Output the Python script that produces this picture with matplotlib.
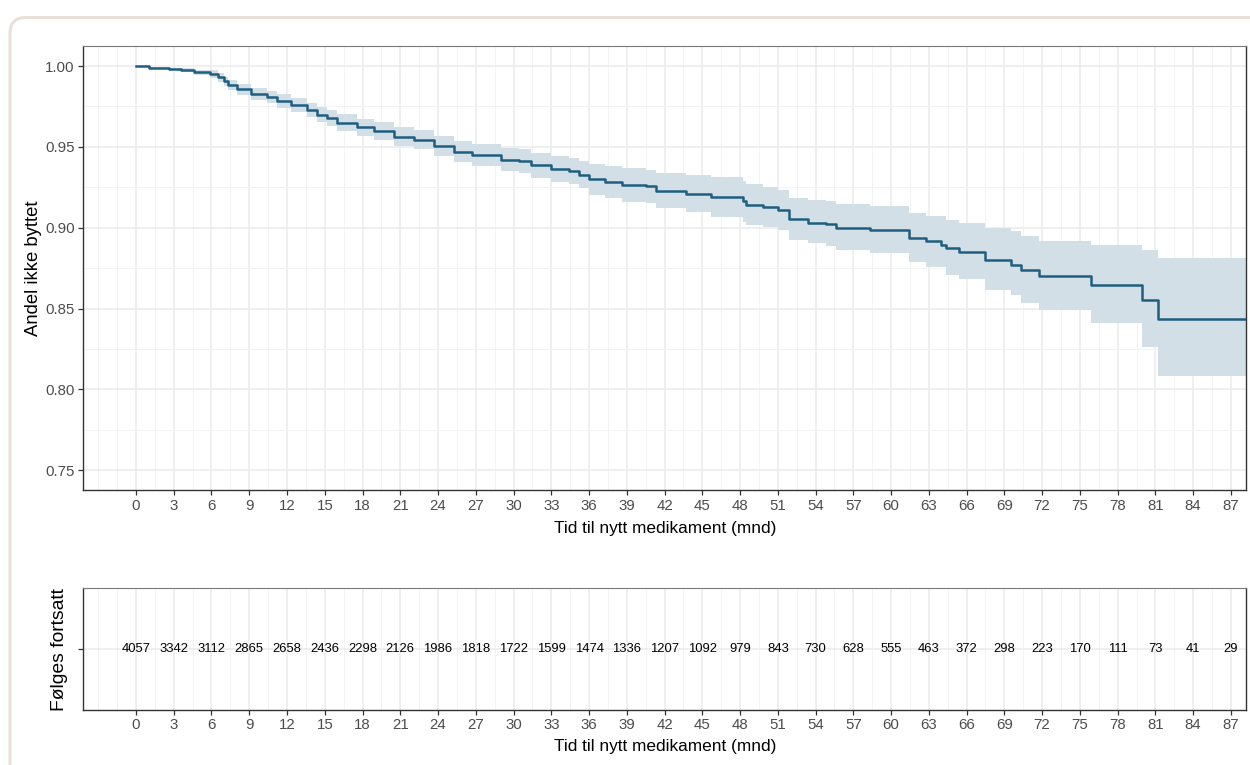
import matplotlib.pyplot as plt
from matplotlib.patches import FancyBboxPatch
import numpy as np

# Kaplan-Meier: tid (mnd), andel ikke byttet og 95% KI
tid = [0, 1.0, 2.6, 3.6, 4.6, 5.9, 6.5, 7.0, 7.35, 8.0,
       9.1, 10.4, 11.2, 12.3, 13.6, 14.4, 15.2, 16.0, 17.6, 18.9,
       20.5, 22.1, 23.7, 25.3, 26.7, 29.0, 30.4, 31.4, 33.0, 34.4,
       35.2, 36.0, 37.3, 38.6, 40.5, 41.3, 43.7, 45.7, 48.2, 48.5,
       49.8, 51.0, 51.9, 53.4, 54.85, 55.65, 58.3, 61.4, 62.8, 64.0,
       64.4, 65.4, 67.5, 69.5, 70.3, 71.75, 75.9, 79.9, 81.2]
andel = [1.0000, 0.9990, 0.9980, 0.9973, 0.9962, 0.9949, 0.9930, 0.9905, 0.9883, 0.9856,
         0.9827, 0.9810, 0.9784, 0.9760, 0.9729, 0.9700, 0.9677, 0.9650, 0.9622, 0.9600,
         0.9564, 0.9543, 0.9506, 0.9470, 0.9447, 0.9420, 0.9410, 0.9385, 0.9364, 0.9352,
         0.9327, 0.9300, 0.9284, 0.9265, 0.9255, 0.9230, 0.9210, 0.9188, 0.9163, 0.9143,
         0.9128, 0.9110, 0.9054, 0.9030, 0.9020, 0.9000, 0.8984, 0.8937, 0.8916, 0.8896,
         0.8875, 0.8850, 0.8800, 0.8772, 0.8741, 0.8700, 0.8648, 0.8556, 0.8438]
nedre = [1.0000, 0.9984, 0.9970, 0.9960, 0.9946, 0.9925, 0.9904, 0.9877, 0.9853, 0.9823,
         0.9792, 0.9772, 0.9743, 0.9716, 0.9684, 0.9653, 0.9628, 0.9599, 0.9569, 0.9545,
         0.9507, 0.9484, 0.9444, 0.9404, 0.9379, 0.9348, 0.9336, 0.9308, 0.9284, 0.9270,
         0.9243, 0.9203, 0.9184, 0.9162, 0.9150, 0.9121, 0.9095, 0.9065, 0.9038, 0.9018,
         0.9002, 0.8985, 0.8924, 0.8905, 0.8885, 0.8860, 0.8844, 0.8786, 0.8757, 0.8757,
         0.8710, 0.8683, 0.8617, 0.8586, 0.8535, 0.8494, 0.8412, 0.8261, 0.8082]
ovre = [1.0000, 0.9996, 0.9990, 0.9986, 0.9978, 0.9973, 0.9956, 0.9933, 0.9913, 0.9889,
        0.9862, 0.9848, 0.9825, 0.9804, 0.9774, 0.9747, 0.9726, 0.9701, 0.9675, 0.9655,
        0.9621, 0.9602, 0.9568, 0.9536, 0.9515, 0.9492, 0.9484, 0.9462, 0.9444, 0.9434,
        0.9411, 0.9397, 0.9384, 0.9368, 0.9360, 0.9339, 0.9325, 0.9311, 0.9288, 0.9268,
        0.9254, 0.9235, 0.9184, 0.9173, 0.9163, 0.9148, 0.9132, 0.9091, 0.9074, 0.9074,
        0.9049, 0.9029, 0.8998, 0.8977, 0.8946, 0.8920, 0.8891, 0.8860, 0.8813]

# antall som følges fortsatt
risk_tid = [0, 3, 6, 9, 12, 15, 18, 21, 24, 27, 30, 33, 36, 39, 42,
            45, 48, 51, 54, 57, 60, 63, 66, 69, 72, 75, 78, 81, 84, 87]
risk_antall = [4057, 3342, 3112, 2865, 2658, 2436, 2298, 2126, 1986, 1818,
               1722, 1599, 1474, 1336, 1207, 1092, 979, 843, 730, 628,
               555, 463, 372, 298, 223, 170, 111, 73, 41, 29]

y_ticks = [0.75, 0.80, 0.85, 0.90, 0.95, 1.00]
y_minor = [0.775, 0.825, 0.875, 0.925, 0.975]

plt.rcParams['font.family'] = ['Liberation Sans', 'DejaVu Sans']

LINJE = '#1f5e7e'
FYLL = '#d2dfe7'
MORK = '#333333'
X_MIN, X_MAX = -4.19, 88.16
X_TITTEL = 'Tid til nytt medikament (mnd)'

fig = plt.figure(figsize=(12.5, 7.65), dpi=100)

# avrundet ramme rundt figuren
ramme = FancyBboxPatch((0.1, -1.0), 14.0, 8.475,
                       boxstyle='round,pad=0,rounding_size=0.16',
                       transform=fig.dpi_scale_trans, fill=False,
                       ec='#e8e0d6', lw=2.2)
fig.patches.append(ramme)

ax = fig.add_axes([0.0666, 0.3595, 0.9298, 0.5804])
ax2 = fig.add_axes([0.0666, 0.0723, 0.9298, 0.1587])


def stil(a):
    a.set_xlim(X_MIN, X_MAX)
    a.set_xticks(risk_tid)
    a.set_xticks(np.arange(-3, X_MAX, 1.5), minor=True)
    a.grid(which='major', color='#ebebeb', lw=1.1)
    a.grid(which='minor', axis='x', color='#f3f3f3', lw=0.7)
    a.set_axisbelow(True)
    a.tick_params(which='minor', length=0)
    a.tick_params(which='major', length=3.3, width=0.9, color=MORK,
                  labelsize=10.8, labelcolor='#4d4d4d', pad=3)
    for s in ['left', 'bottom', 'right']:
        a.spines[s].set_color(MORK)
        a.spines[s].set_linewidth(1.0)
    a.spines['top'].set_color('#7a7a7a')
    a.spines['top'].set_linewidth(0.8)


# overlevelseskurve
t_kurve = tid + [X_MAX]
ax.fill_between(t_kurve, nedre + [nedre[-1]], ovre + [ovre[-1]],
                step='post', color=FYLL, lw=0)
ax.plot(t_kurve, andel + [andel[-1]], drawstyle='steps-post',
        color=LINJE, lw=1.8)
stil(ax)
ax.set_ylim(0.7378, 1.0124)
ax.set_yticks(y_ticks)
ax.set_yticks(y_minor, minor=True)
ax.grid(which='minor', axis='y', color='#f3f3f3', lw=0.7)
ax.set_yticklabels([f'{v:.2f}' for v in y_ticks])

# tabell over antall som følges
stil(ax2)
ax2.set_ylim(0, 1)
ax2.set_yticks([0.5])
ax2.set_yticklabels([''])
for t, n in zip(risk_tid, risk_antall):
    ax2.text(t, 0.5, str(n), ha='center', va='center', fontsize=9.4,
             color='black')

fig.text(34 / 1250, 1 - 268.5 / 765, 'Andel ikke byttet', rotation=90,
         ha='center', va='center', fontsize=13.3)
fig.text(59 / 1250, 1 - 650 / 765, 'Følges fortsatt', rotation=90,
         ha='center', va='center', fontsize=13.9)
fig.text(665 / 1250, 1 - 529 / 765, X_TITTEL, ha='center', va='center',
         fontsize=12.4)
fig.text(665 / 1250, 1 - 747 / 765, X_TITTEL, ha='center', va='center',
         fontsize=12.4)

fig.savefig('out.png', dpi=100, facecolor='white')
